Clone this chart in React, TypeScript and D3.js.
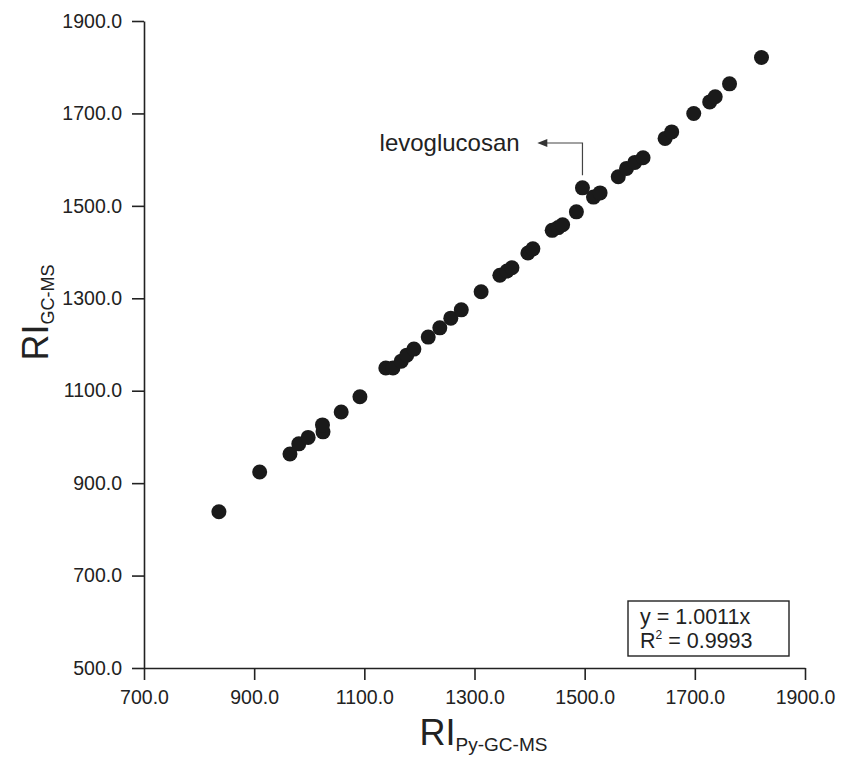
import React, { useEffect, useRef } from "react";
import * as d3 from "d3";

// RI values
const riPy = [836, 910, 965, 981, 998, 1025, 1024, 1058, 1092, 1139, 1152, 1167, 1177, 1190, 1216, 1237, 1257, 1276, 1312, 1346, 1359, 1368, 1397, 1406, 1441, 1452, 1460, 1485, 1496, 1516, 1528, 1561, 1576, 1591, 1606, 1646, 1658, 1698, 1727, 1737, 1763, 1821];
const riGc = [838, 924, 963, 985, 999, 1011, 1026, 1054, 1087, 1149, 1149, 1164, 1177, 1190, 1216, 1236, 1257, 1275, 1314, 1350, 1359, 1366, 1398, 1407, 1447, 1453, 1459, 1487, 1539, 1519, 1528, 1563, 1581, 1594, 1604, 1646, 1660, 1700, 1725, 1736, 1764, 1821];
const xTicks = [700, 900, 1100, 1300, 1500, 1700, 1900];
const yTicks = [500, 700, 900, 1100, 1300, 1500, 1700, 1900];
const fitLines = ["y = 1.0011x", "R² = 0.9993"];

export default function App() {
  const ref = useRef<SVGSVGElement>(null);

  useEffect(() => {
    const svg = d3.select(ref.current);
    svg.selectAll("*").remove();

    const margin = { top: 21, right: 36, bottom: 89, left: 144 };
    const W = 841, H = 757;
    const w = W - margin.left - margin.right;
    const h = H - margin.top - margin.bottom;
    const ink = "#222";
    const font = "Liberation Sans, Arial, sans-serif";

    const x = d3.scaleLinear().domain([700, 1900]).range([0, w]);
    const y = d3.scaleLinear().domain([500, 1900]).range([h, 0]);

    const g = svg.append("g").attr("transform", `translate(${margin.left},${margin.top})`);

    const xAxis = g.append("g")
      .attr("transform", `translate(0,${h})`)
      .call(d3.axisBottom(x).tickValues(xTicks).tickSize(12).tickSizeOuter(0).tickPadding(10).tickFormat(d3.format(".1f")));
    const yAxis = g.append("g")
      .call(d3.axisLeft(y).tickValues(yTicks).tickSize(12).tickSizeOuter(0).tickPadding(10).tickFormat(d3.format(".1f")));

    [xAxis, yAxis].forEach((a) => {
      a.selectAll("path,line").attr("stroke", ink).attr("stroke-width", 1.6);
      a.selectAll("text").attr("fill", ink).style("font-family", font).style("font-size", "19.5px");
    });

    // dots
    g.append("g")
      .selectAll("circle")
      .data(riPy.map((v, i) => [v, riGc[i]]))
      .join("circle")
      .attr("cx", (d) => x(d[0]))
      .attr("cy", (d) => y(d[1]))
      .attr("r", 7.5)
      .attr("fill", "#1a1a1a");

    // levoglucosan callout
    const lx = x(1496), ly = y(1636), tipX = x(1414);
    g.append("path")
      .attr("d", `M${lx},${y(1566)} V${ly} H${tipX + 8}`)
      .attr("fill", "none").attr("stroke", "#444").attr("stroke-width", 1.2);
    g.append("path")
      .attr("d", `M${tipX},${ly} l10,-4 v8 z`)
      .attr("fill", "#333");
    g.append("text")
      .attr("x", x(1382)).attr("y", ly).attr("dy", "0.35em")
      .attr("text-anchor", "end")
      .style("font-family", font).style("font-size", "24px").attr("fill", ink)
      .text("levoglucosan");

    // fit box
    const bx = 628 - margin.left, by = 601 - margin.top, bw = 161, bh = 55;
    g.append("rect").attr("x", bx).attr("y", by).attr("width", bw).attr("height", bh)
      .attr("fill", "white").attr("stroke", ink).attr("stroke-width", 1.4);
    const ft = g.append("text")
      .attr("x", bx + 12).attr("y", by + 23)
      .style("font-family", font).style("font-size", "21.5px").attr("fill", ink);
    ft.append("tspan").attr("x", bx + 12).text(fitLines[0]);
    const r2 = ft.append("tspan").attr("x", bx + 12).attr("dy", 24).text("R");
    r2.append("tspan").attr("dy", -9).style("font-size", "12px").text("2");
    r2.append("tspan").attr("dy", 9).text(fitLines[1].slice(2));

    // axis titles
    const xt = svg.append("text")
      .attr("x", margin.left + w / 2 + 9).attr("y", 745)
      .attr("text-anchor", "middle")
      .style("font-family", font).attr("fill", ink);
    xt.append("tspan").style("font-size", "36px").text("RI");
    xt.append("tspan").attr("dy", 6).style("font-size", "19px").text("Py-GC-MS");

    const yt = svg.append("text")
      .attr("transform", `translate(48,${margin.top + h / 2 - 32}) rotate(-90)`)
      .attr("text-anchor", "middle")
      .style("font-family", font).attr("fill", ink);
    yt.append("tspan").style("font-size", "36px").text("RI");
    yt.append("tspan").attr("dy", 6).style("font-size", "18px").text("GC-MS");
  }, []);

  return <svg ref={ref} width={841} height={757} style={{ position: "absolute", left: 0, top: 0 }} />;
}
